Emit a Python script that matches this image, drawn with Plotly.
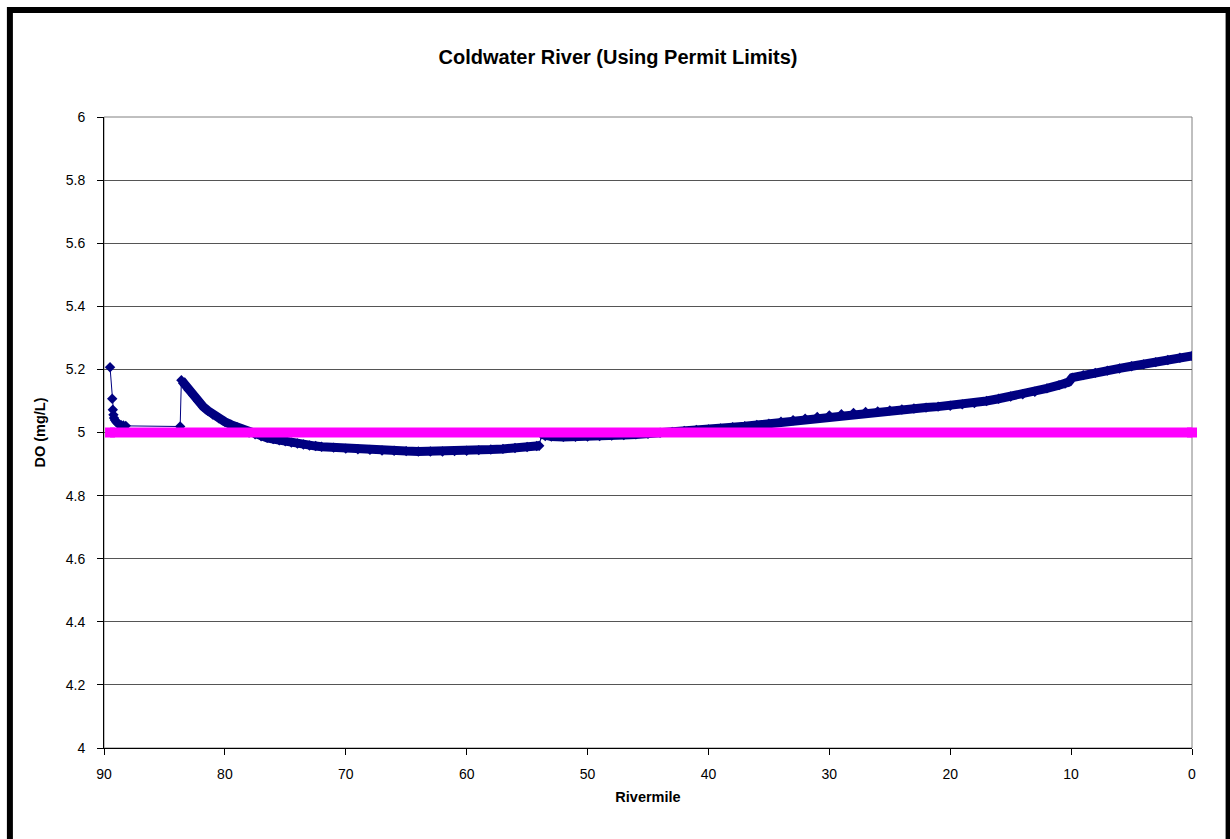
import plotly.graph_objects as go

# ---- data ----
# upstream reach: sparse model output points
reach1_mile = [89.5, 89.32, 89.27, 89.22, 89.17, 89.1, 89.0, 88.9, 88.8, 88.6, 88.4, 88.2, 83.7]
reach1_do = [5.207, 5.107, 5.072, 5.056, 5.046, 5.040, 5.034, 5.030, 5.027, 5.024, 5.022, 5.021, 5.019]

# reach below first discharge
reach2_mile = [83.6, 83.3, 83.0, 82.6, 82.2, 81.8, 81.4, 81.0, 80.5, 80.0, 79.5, 79.0, 78.5, 78.0,
               77.5, 77.0, 76.5, 76.0, 75.5, 75.0, 74.5, 74.0, 73.5, 73.0, 72.5, 72.0, 71.0, 70.0,
               69.0, 68.0, 67.0, 66.0, 65.0, 64.0, 63.0, 62.0, 61.0, 60.0, 59.0, 58.0, 57.0, 56.0,
               55.0, 54.2, 54.0]
reach2_do = [5.166, 5.150, 5.135, 5.117, 5.099, 5.082, 5.069, 5.057, 5.045, 5.034, 5.025, 5.017, 5.008, 5.000,
             4.994, 4.988, 4.983, 4.979, 4.975, 4.972, 4.968, 4.965, 4.962, 4.959, 4.957, 4.955, 4.952, 4.949,
             4.947, 4.945, 4.943, 4.942, 4.941, 4.940, 4.940, 4.940, 4.941, 4.942, 4.944, 4.946, 4.948, 4.951,
             4.954, 4.957, 4.958]

# reach below second discharge down to mouth
reach3_mile = [53.8, 53.5, 53.0, 52.0, 51.0, 50.0, 49.0, 48.0, 47.0, 46.0, 45.0, 44.0, 43.0, 42.0,
               41.0, 40.0, 39.0, 38.0, 37.0, 36.0, 35.0, 34.0, 33.0, 32.0, 31.0, 30.0, 29.0, 28.0,
               27.0, 26.0, 25.0, 24.0, 23.0, 22.0, 21.0, 20.0, 19.0, 18.0, 17.0, 16.0, 15.0, 14.0,
               13.0, 12.0, 11.0, 10.5, 10.2, 9.9, 9.0, 8.0, 7.0, 6.0, 5.0, 4.0, 3.0, 2.0, 1.0, 0.0]
reach3_do = [4.994, 4.989, 4.987, 4.986, 4.986, 4.987, 4.989, 4.990, 4.992, 4.994, 4.996, 4.999, 5.002, 5.005,
             5.008, 5.010, 5.013, 5.017, 5.020, 5.024, 5.028, 5.034, 5.039, 5.044, 5.049, 5.054, 5.058, 5.062,
             5.065, 5.067, 5.070, 5.073, 5.076, 5.079, 5.082, 5.085, 5.089, 5.093, 5.100, 5.107, 5.114, 5.121,
             5.129, 5.140, 5.150, 5.155, 5.160, 5.174, 5.182, 5.189, 5.196, 5.203, 5.210, 5.216, 5.223, 5.230, 5.237, 5.243]

# DO standard (permit limit)
std_mile = [89.5, 0.0]
std_do = [5.0, 5.0]

y_ticks = [4.0, 4.2, 4.4, 4.6, 4.8, 5.0, 5.2, 5.4, 5.6, 5.8, 6.0]
y_tick_labels = ["4", "4.2", "4.4", "4.6", "4.8", "5", "5.2", "5.4", "5.6", "5.8", "6"]
x_ticks = [90, 80, 70, 60, 50, 40, 30, 20, 10, 0]
x_tick_labels = ["90", "80", "70", "60", "50", "40", "30", "20", "10", "0"]

NAVY = "#000080"
MAGENTA = "#FF00FF"
FONT = "Liberation Sans, Arial, sans-serif"

W, H = 1230, 839
ML, MR, MT, MB = 104, 38, 117, 91
PW, PH = W - ML - MR, H - MT - MB

fig = go.Figure()

# dense model output (markers overlap into a band)
fig.add_trace(go.Scatter(
    x=reach2_mile + [None] + reach3_mile,
    y=reach2_do + [None] + reach3_do,
    mode="lines", line=dict(color=NAVY, width=9), connectgaps=False,
    hoverinfo="skip", showlegend=False))

fig.add_trace(go.Scatter(
    x=reach1_mile + reach2_mile + reach3_mile,
    y=reach1_do + reach2_do + reach3_do,
    mode="lines+markers", name="DO",
    line=dict(color=NAVY, width=1),
    marker=dict(symbol="diamond", size=8, color=NAVY),
    showlegend=False))

fig.add_trace(go.Scatter(
    x=std_mile, y=std_do, mode="lines+markers", name="Standard",
    line=dict(color=MAGENTA, width=10),
    marker=dict(symbol="square", size=10, color=MAGENTA),
    cliponaxis=False, showlegend=False))


def px_x(p):
    return (p - ML) / PW


def px_y(p):
    return (H - MB - p) / PH


shapes = [
    # plot area border (gray)
    dict(type="rect", xref="paper", yref="paper", x0=0, x1=1, y0=0, y1=1,
         line=dict(color="#808080", width=1), layer="below"),
    # outer chart border
    dict(type="rect", xref="paper", yref="paper",
         x0=px_x(9.9), x1=px_x(1228.6), y0=px_y(842), y1=px_y(9.9),
         line=dict(color="black", width=6), layer="above"),
]

fig.update_layout(
    width=W, height=H,
    margin=dict(l=ML, r=MR, t=MT, b=MB, pad=0),
    paper_bgcolor="white", plot_bgcolor="white",
    font=dict(family=FONT, size=14, color="black"),
    title=dict(text="<b>Coldwater River (Using Permit Limits)</b>",
               x=618 / W, xref="container", xanchor="center",
               y=1 - 57 / H, yref="container", yanchor="middle",
               font=dict(family=FONT, size=20, color="black")),
    shapes=shapes,
    showlegend=False,
)

fig.update_xaxes(
    range=[90, 0], tickvals=x_ticks, ticktext=x_tick_labels,
    ticks="outside", ticklen=6, tickcolor="black", tickwidth=1,
    showline=True, linecolor="black", linewidth=1,
    showgrid=False, zeroline=False,
    tickfont=dict(family=FONT, size=14, color="black"),
    ticklabelstandoff=7,
    title=dict(text="<b>Rivermile</b>", font=dict(family=FONT, size=14.5, color="black"), standoff=11),
)
fig.update_yaxes(
    range=[4, 6], tickvals=y_ticks, ticktext=y_tick_labels,
    ticks="outside", ticklen=6, tickcolor="black", tickwidth=1,
    showline=True, linecolor="black", linewidth=1,
    showgrid=True, gridcolor="#555555", gridwidth=1, zeroline=False,
    tickfont=dict(family=FONT, size=14, color="black"),
    ticklabelstandoff=9,
    title=dict(text="<b>DO (mg/L)</b>", font=dict(family=FONT, size=14.5, color="black"), standoff=16),
)

fig.write_html("out.html", config={"displayModeBar": False},
               post_script="document.body.style.margin='0';document.body.style.overflow='hidden';")
